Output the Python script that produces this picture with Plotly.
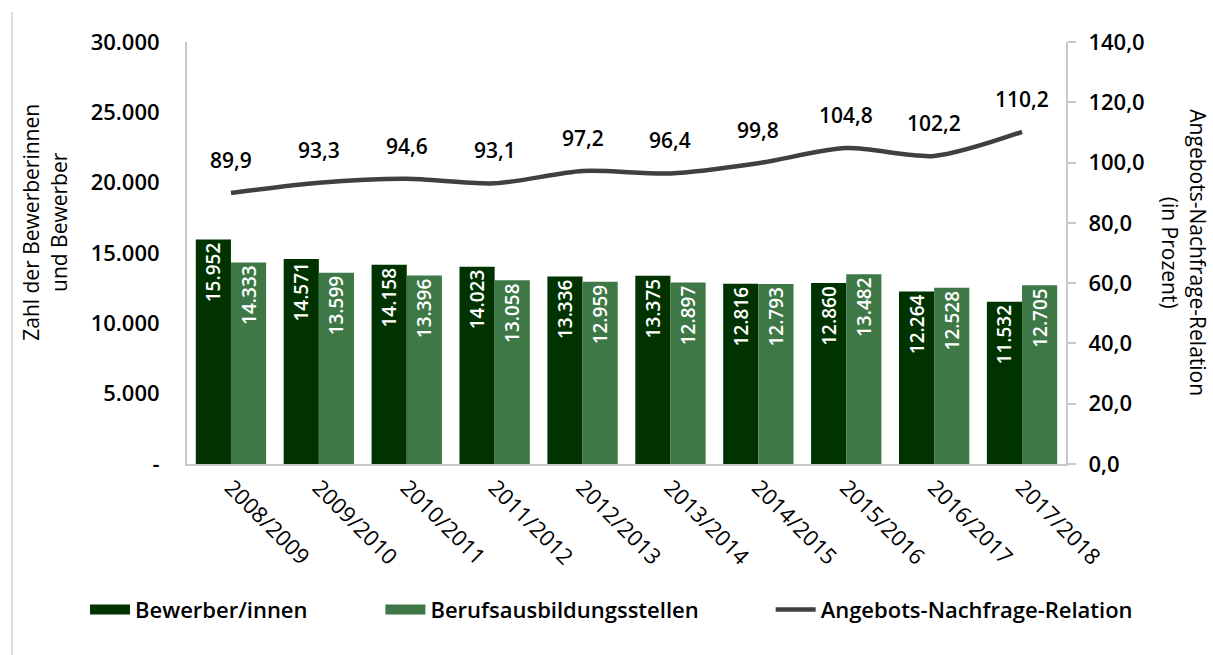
import plotly.graph_objects as go

# Ausbildungsjahre
jahre = ["2008/2009", "2009/2010", "2010/2011", "2011/2012", "2012/2013",
         "2013/2014", "2014/2015", "2015/2016", "2016/2017", "2017/2018"]

# Bewerber/innen und gemeldete Berufsausbildungsstellen
bewerber = [15952, 14571, 14158, 14023, 13336, 13375, 12816, 12860, 12264, 11532]
stellen = [14333, 13599, 13396, 13058, 12959, 12897, 12793, 13482, 12528, 12705]

# Angebots-Nachfrage-Relation in Prozent
relation = [89.9, 93.3, 94.6, 93.1, 97.2, 96.4, 99.8, 104.8, 102.2, 110.2]

# Achsenbeschriftung links
y_ticks = [0, 5000, 10000, 15000, 20000, 25000, 30000]
y_ticktext = ["-", "5.000", "10.000", "15.000", "20.000", "25.000", "30.000"]

DUNKEL = "#013301"
HELL = "#3d7846"
LINIE = "#404040"
ACHSE = "#c8c8c8"
FONT = "Open Sans"

fig = go.Figure()

bar_text_font = dict(family=FONT, size=19, color="white", weight=600)

fig.add_trace(go.Bar(
    x=jahre, y=bewerber, name="Bewerber/innen", legendgroup="bew",
    showlegend=False,
    marker=dict(color=DUNKEL, line=dict(width=0)),
    texttemplate="%{y:,d}", textposition="inside", insidetextanchor="end",
    textangle=-90, textfont=bar_text_font, cliponaxis=False,
))
fig.add_trace(go.Bar(
    x=jahre, y=stellen, name="Berufsausbildungsstellen", legendgroup="st",
    showlegend=False,
    marker=dict(color=HELL, line=dict(width=0)),
    texttemplate="%{y:,d}", textposition="inside", insidetextanchor="end",
    textangle=-90, textfont=bar_text_font, cliponaxis=False,
))
fig.add_trace(go.Scatter(
    x=jahre, y=relation, name="Angebots-Nachfrage-Relation", yaxis="y2",
    legend="legend3",
    mode="lines", line=dict(color=LINIE, width=4.5, shape="spline", smoothing=0.8),
))

# Legendeneinträge als breite Farbbalken
fig.add_trace(go.Scatter(
    x=[None], y=[None], name="Bewerber/innen", legendgroup="bew", legend="legend",
    mode="lines", line=dict(color=DUNKEL, width=13), hoverinfo="skip",
))
fig.add_trace(go.Scatter(
    x=[None], y=[None], name="Berufsausbildungsstellen", legendgroup="st", legend="legend2",
    mode="lines", line=dict(color=HELL, width=13), hoverinfo="skip",
))

# Werte der Relation über der Linie
for j, r in zip(jahre, relation):
    fig.add_annotation(
        x=j, y=r, yref="y2", text=f"{r:.1f}".replace(".", ","),
        showarrow=False, yshift=33,
        font=dict(family=FONT, size=21, color="black", weight=600),
    )

# Achsentitel
fig.add_annotation(
    xref="paper", yref="paper", x=-0.162, y=0.573, xanchor="center", yanchor="middle",
    text="Zahl der Bewerberinnen<br>und Bewerber", textangle=-90,
    showarrow=False, font=dict(family=FONT, size=21, color="black"),
)
fig.add_annotation(
    xref="paper", yref="paper", x=1.135, y=0.5, xanchor="center", yanchor="middle",
    text="Angebots-Nachfrage-Relation<br>(in Prozent)", textangle=90,
    showarrow=False, font=dict(family=FONT, size=21, color="black"),
)

# dünne Randlinie links
fig.add_shape(
    type="line", xref="paper", yref="paper",
    x0=-0.199, x1=-0.199, y0=-0.453, y1=1.071,
    line=dict(color="#d0d0d0", width=1.5),
)

legend_style = dict(
    orientation="h", xanchor="left", y=-0.345, yanchor="middle",
    font=dict(family=FONT, size=22, color="black", weight=600),
    itemwidth=40, bgcolor="rgba(0,0,0,0)",
)

fig.update_layout(
    width=1213, height=655,
    margin=dict(l=187, r=147, t=42, b=191),
    paper_bgcolor="white", plot_bgcolor="white",
    separators=",.",
    barmode="group", bargap=0.2, bargroupgap=0,
    font=dict(family=FONT, color="black"),
    showlegend=True,
    legend=dict(x=-0.116, **legend_style),
    legend2=dict(x=0.220, **legend_style),
    legend3=dict(x=0.664, **legend_style),
    xaxis=dict(
        type="category", tickangle=45, showgrid=False, ticks="",
        showline=True, linecolor=ACHSE, linewidth=2,
        tickfont=dict(family=FONT, size=22, color="black"),
    ),
    yaxis=dict(
        range=[0, 30000], tickvals=y_ticks, ticktext=y_ticktext,
        showgrid=False, zeroline=False, ticks="",
        showline=True, linecolor=ACHSE, linewidth=2,
        tickfont=dict(family=FONT, size=22, color="black", weight=600),
        ticklabelstandoff=21,
    ),
    yaxis2=dict(
        overlaying="y", side="right", range=[0, 140], dtick=20,
        tickformat=".1f", showgrid=False, zeroline=False,
        ticks="outside", ticklen=8, tickcolor=ACHSE, tickwidth=2,
        showline=True, linecolor=ACHSE, linewidth=2,
        tickfont=dict(family=FONT, size=22, color="black", weight=600),
        ticklabelstandoff=8,
    ),
)

fig.write_html("out.html")
